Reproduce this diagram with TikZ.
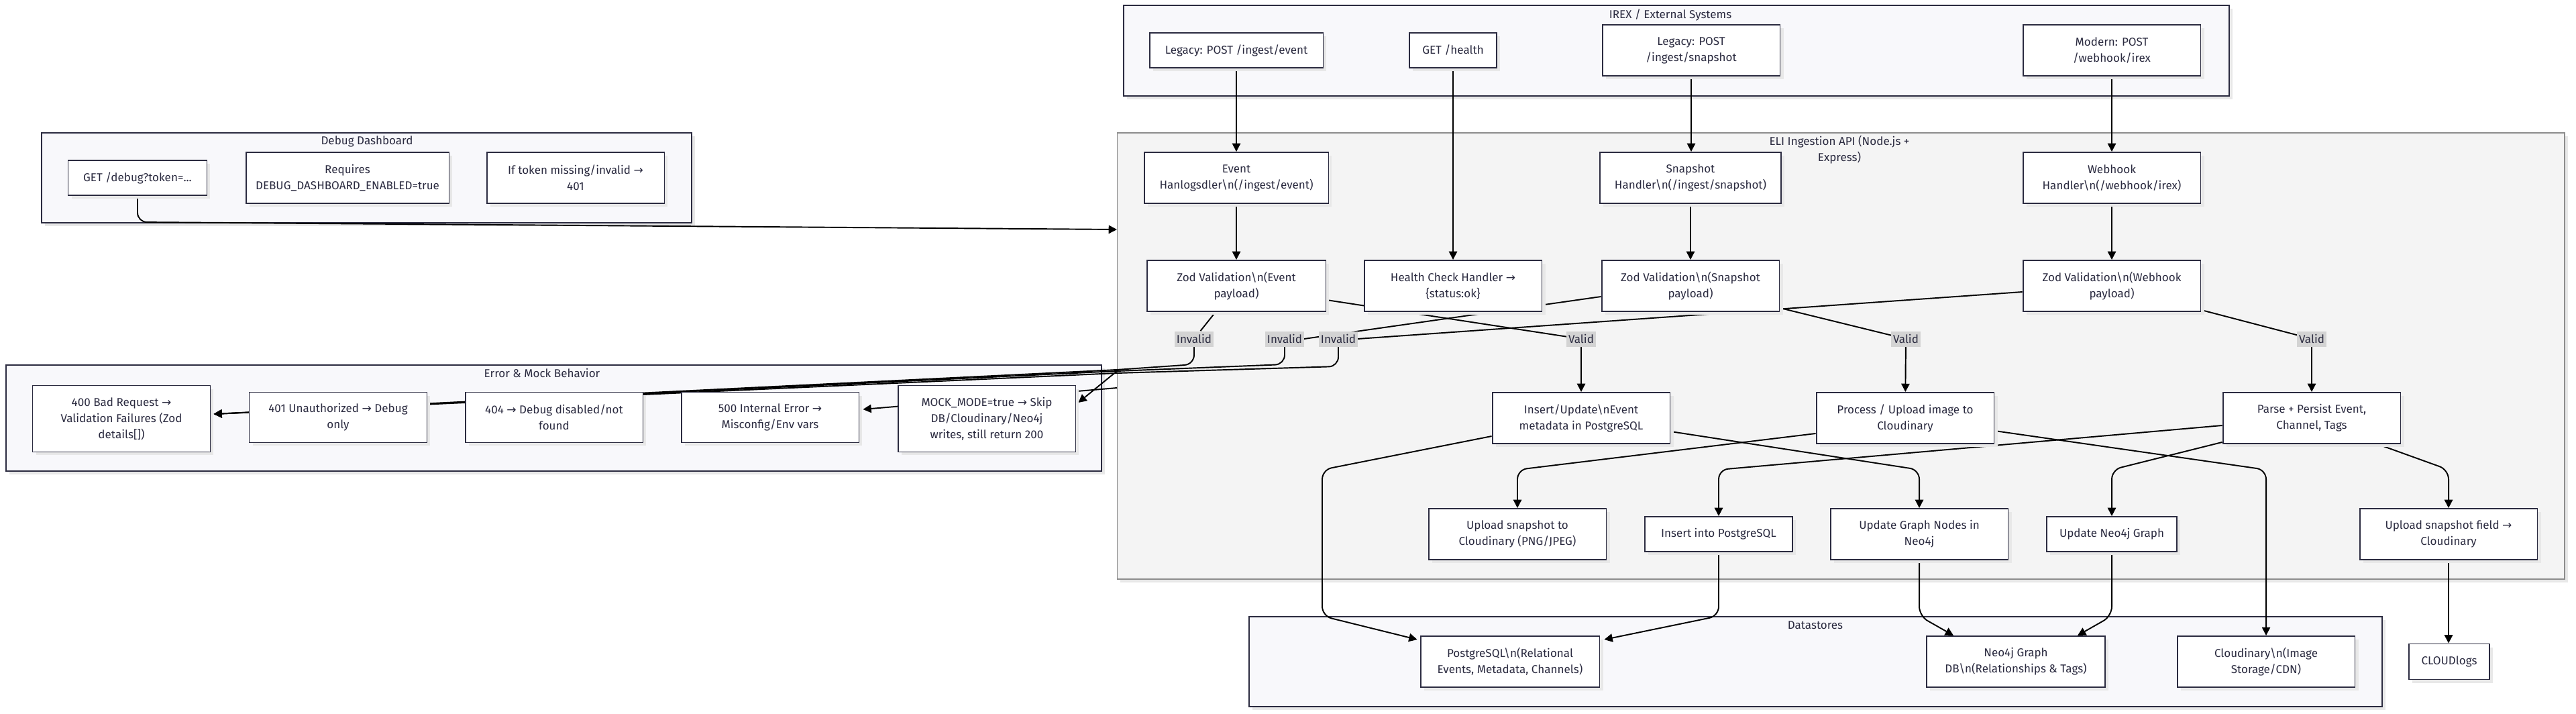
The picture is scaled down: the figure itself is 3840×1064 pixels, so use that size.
\documentclass[tikz,border=0pt]{standalone}
\usepackage{fontspec}
\setmainfont{Fira Sans}
\newfontfamily\symfont{DejaVu Sans}
\usetikzlibrary{arrows.meta,calc,shadows}
\pgfdeclarelayer{back}
\pgfdeclarelayer{mid}
\pgfsetlayers{back,mid,main}

\definecolor{boxline}{HTML}{2B2B40}
\definecolor{boxtext}{HTML}{2B2B40}
\definecolor{grpfill}{HTML}{F8F8FB}
\definecolor{apifill}{HTML}{F4F4F4}
\definecolor{apiline}{HTML}{8C8C8C}
\definecolor{tagfill}{HTML}{D3D3D3}

\newcommand{\arr}{{\symfont →}}
\newcommand{\bsn}{\textbackslash n}

\tikzset{
  txt/.style={text=boxtext, font=\fontsize{9.7}{13.6}\selectfont},
  shade/.style={drop shadow={shadow xshift=0.1cm, shadow yshift=-0.1cm, fill=black!9, opacity=1}},
  box/.style={txt, shade, draw=boxline, line width=1.1pt, fill=white, align=center, inner sep=0pt,
    minimum width=5.3cm, minimum height=1.52cm},
  flat/.style={minimum height=1.04cm},
  tall/.style={minimum height=1.98cm},
  grp/.style={shade, draw=boxline, line width=1.1pt, fill=grpfill, inner sep=0pt},
  apigrp/.style={shade, draw=apiline, line width=0.8pt, fill=apifill, inner sep=0pt},
  title/.style={txt, align=center, inner sep=0pt},
  tag/.style={txt, fill=tagfill, inner xsep=1.5pt, inner ysep=0pt, minimum height=0.46cm},
  link/.style={draw=black, line width=1.1pt, rounded corners=8pt},
  flow/.style={link, -{Triangle[length=7pt,width=7pt]}}
}

\begin{document}
\begin{tikzpicture}[x=0.02cm,y=-0.02cm]
		%%%%% START %%%%%
		\useasboundingbox (0,0) rectangle (3840,1064);
		
		\begin{pgfonlayer}{back}
		\node[grp, minimum width=32.96cm, minimum height=2.7cm] (irex) at (2499,75.5) {};
		\node[grp, minimum width=19.38cm, minimum height=2.68cm] (debug) at (546.5,265) {};
		\node[apigrp, minimum width=43.16cm, minimum height=13.3cm] (api) at (2744,530.5) {};
		\node[grp, minimum width=32.66cm, minimum height=3.16cm] (errors) at (825.5,623) {};
		\node[grp, minimum width=33.78cm, minimum height=2.68cm] (stores) at (2706.5,986) {};
		\end{pgfonlayer}
		
		\node[title] (irexTitle) at (2490,22) {IREX / External Systems};
		\node[title] (debugTitle) at (547,211) {Debug Dashboard};
		\node[title] (apiTitle) at (2742,223) {ELI Ingestion API (Node.js +\\Express)};
		\node[title] (errorsTitle) at (808,556) {Error \& Mock Behavior};
		\node[title] (storesTitle) at (2706,932) {Datastores};
		
		% IREX
		\node[box, flat, minimum width=5.18cm] (legEvent) at (1843,75) {Legacy: POST /ingest/event};
		\node[box, flat, minimum width=2.6cm] (getHealth) at (2166,75) {GET /health};
		\node[box] (legSnap) at (2521,75) {Legacy: POST\\/ingest/snapshot};
		\node[box] (modWebhook) at (3148,75) {Modern: POST\\/webhook/irex};
		
		% debug
		\node[box, flat, minimum width=4.14cm] (getDebug) at (205,265) {GET /debug?token=...};
		\node[box, minimum width=6.06cm] (requires) at (518,265) {Requires\\DEBUG\_DASHBOARD\_ENABLED=true};
		\node[box] (tokenMissing) at (858,265) {If token missing/invalid \arr\\401};
		
		% api
		\node[box, minimum width=5.5cm] (evHandler) at (1843,265) {Event\\Hanlogsdler\bsn(/ingest/event)};
		\node[box, minimum width=5.4cm] (snHandler) at (2520,265) {Snapshot\\Handler\bsn(/ingest/snapshot)};
		\node[box] (whHandler) at (3148,265) {Webhook\\Handler\bsn(/webhook/irex)};
		\node[box, minimum width=5.34cm] (zodEvent) at (1843,426) {Zod Validation\bsn(Event\\payload)};
		\node[box] (healthCheck) at (2166,426) {Health Check Handler \arr\\\{status:ok\}};
		\node[box] (zodSnap) at (2520,426) {Zod Validation\bsn(Snapshot\\payload)};
		\node[box] (zodHook) at (3148,426) {Zod Validation\bsn(Webhook\\payload)};
		\node[box] (insertEvent) at (2357,623) {Insert/Update\bsn Event\\metadata in PostgreSQL};
		\node[box] (uploadImage) at (2840,623) {Process / Upload image to\\Cloudinary};
		\node[box] (parsePersist) at (3446,623) {Parse + Persist Event,\\Channel, Tags};
		\node[box] (uploadSnap) at (2262,796) {Upload snapshot to\\Cloudinary (PNG/JPEG)};
		\node[box, flat, minimum width=4.4cm] (insertPg) at (2562,796) {Insert into PostgreSQL};
		\node[box] (updateGraph) at (2861,796) {Update Graph Nodes in\\Neo4j};
		\node[box, flat, minimum width=3.88cm] (updateNeo) at (3148,796) {Update Neo4j Graph};
		\node[box] (uploadField) at (3650,796) {Upload snapshot field \arr\\Cloudinary};
		
		\node[tag] (inv1) at (1780,505) {Invalid};
		\node[tag] (inv2) at (1915,505) {Invalid};
		\node[tag] (inv3) at (1995,505) {Invalid};
		\node[tag] (val1) at (2357,505) {Valid};
		\node[tag] (val2) at (2841,505) {Valid};
		\node[tag] (val3) at (3446,505) {Valid};
		
		% errors
		\node[box, tall] (e400) at (181,624) {400 Bad Request \arr\\Validation Failures (Zod\\details[])};
		\node[box, minimum height=1.5cm] (e401) at (504,622) {401 Unauthorized \arr{} Debug\\only};
		\node[box, minimum height=1.5cm] (e404) at (826,622) {404 \arr{} Debug disabled/not\\found};
		\node[box, minimum height=1.5cm] (e500) at (1148,622) {500 Internal Error \arr\\Misconfig/Env vars};
		\node[box, tall] (mock) at (1471,624) {MOCK\_MODE=true \arr{} Skip\\DB/Cloudinary/Neo4j\\writes, still return 200};
		
		% stores
		\node[box, minimum width=5.34cm] (pg) at (2251,986) {PostgreSQL\bsn(Relational\\Events, Metadata, Channels)};
		\node[box, minimum width=5.32cm] (neo) at (3005,986) {Neo4j Graph\\DB\bsn(Relationships \& Tags)};
		\node[box] (cloud) at (3378,986) {Cloudinary\bsn(Image\\Storage/CDN)};
		\node[box, minimum width=2.4cm, minimum height=1.06cm] (cloudLogs) at (3651,986) {CLOUDlogs};
		
		\coordinate (apiIn) at (1665,342);
		\coordinate (apiOut1) at (1665,553);
		\coordinate (apiOut2) at (1665,578);
		
		\begin{pgfonlayer}{mid}
		\draw[flow] (legEvent) -- (evHandler);
		\draw[flow] (getHealth) -- (healthCheck);
		\draw[flow] (legSnap.south) -- (snHandler.north -| legSnap.south);
		\draw[flow] (modWebhook) -- (whHandler);
		\draw[flow] (evHandler) -- (zodEvent);
		\draw[flow] (snHandler) -- (zodSnap);
		\draw[flow] (whHandler) -- (zodHook);
		
		\draw[flow] (getDebug.south) -- (205,331) -- (apiIn);
		
		\draw[link] ($(zodEvent.south)+(-31,0)$) -- (inv1);
		\draw[flow] (inv1.south) -- (1780,543) -- (1665,551) -- ($(e400.east)+(4,-7)$);
		\draw[link] ($(zodSnap.west)+(0,16)$) -- (inv2.east);
		\draw[flow] (inv2.south) -- (1915,543) -- (1665,553) -- ($(e400.east)+(4,-7)$);
		\draw[link] ($(zodHook.west)+(0,9)$) -- (inv3.east);
		\draw[flow] (inv3.south) -- (1995,546) -- (1665,556) -- ($(e400.east)+(4,-7)$);
		
		\draw[link] ($(zodEvent.east)+(0,21)$) -- (val1);
		\draw[flow] (val1) -- (insertEvent);
		\draw[link] ($(zodSnap.south east)+(0,-6)$) -- (val2);
		\draw[flow] (val2) -- (uploadImage);
		\draw[link] ($(zodHook.south east)+(0,-3)$) -- (val3);
		\draw[flow] (val3) -- (parsePersist);
		
		\draw[flow] ($(insertEvent.west)+(0,27)$) -- (1971,700) -- (1971,918) -- ($(pg.north west)+(-4,6)$);
		\draw[flow] ($(insertEvent.east)+(0,20)$) -- (2861,700) -- (updateGraph.north);
		\draw[flow] ($(uploadImage.west)+(0,23)$) -- (2262,700) -- (uploadSnap.north);
		\draw[flow] ($(uploadImage.east)+(0,19)$) -- (3378,700) -- (cloud.north);
		\draw[flow] ($(parsePersist.west)+(0,11)$) -- (2562,700) -- (insertPg.north);
		\draw[flow] ($(parsePersist.south west)+(0,-3)$) -- (3148,700) -- (updateNeo.north);
		\draw[flow] ($(parsePersist.south east)+(-35,0)$) -- (3650,700) -- (uploadField.north);
		\draw[flow] (insertPg.south) -- (2562,918) -- ($(pg.north east)+(6,6)$);
		\draw[flow] (updateGraph.south) -- (2861,918) -- ($(neo.north west)+(41,0)$);
		\draw[flow] (updateNeo.south) -- (3148,918) -- ($(neo.north east)+(-42,0)$);
		\draw[flow] (uploadField.south) -- (uploadField.south |- cloudLogs.north);
		
		\draw[flow] (apiOut1) -- ($(mock.east)+(3,-24)$);
		\draw[flow] (apiOut2) -- ($(e500.east)+(5,-12)$);
		\end{pgfonlayer}
		
		%%%%% END %%%%%
\end{tikzpicture}
\end{document}
